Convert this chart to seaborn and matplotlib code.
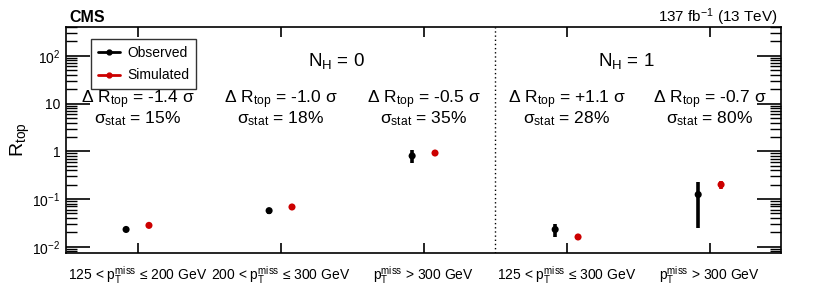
import numpy as np
import pandas as pd
import matplotlib
matplotlib.use("Agg")
import matplotlib.pyplot as plt
import seaborn as sns
from matplotlib.lines import Line2D
from matplotlib.ticker import FixedLocator, FixedFormatter, LogLocator, NullFormatter

# ---- data ----
bins = ["125 < p$_{T}^{miss}$ ≤ 200 GeV", "200 < p$_{T}^{miss}$ ≤ 300 GeV", "p$_{T}^{miss}$ > 300 GeV",
        "125 < p$_{T}^{miss}$ ≤ 300 GeV", "p$_{T}^{miss}$ > 300 GeV"]
obs = [0.023, 0.057, 0.80, 0.023, 0.124]
obs_lo = [0.0205, 0.048, 0.57, 0.016, 0.025]
obs_hi = [0.0258, 0.066, 1.05, 0.030, 0.23]
sim = [0.028, 0.068, 0.92, 0.016, 0.20]
sim_lo = [0.027, 0.066, 0.90, 0.0155, 0.16]
sim_hi = [0.029, 0.070, 0.95, 0.0165, 0.24]
delta_r = ["-1.4", "-1.0", "-0.5", "+1.1", "-0.7"]
sigma_stat = ["15%", "18%", "35%", "28%", "80%"]

sns.set_theme(style="ticks")
plt.rcParams['font.family'] = ['Liberation Sans', 'DejaVu Sans']
plt.rcParams['mathtext.default'] = 'regular'
plt.rcParams['axes.linewidth'] = 1.2
for k in ['text.color', 'axes.labelcolor', 'xtick.color', 'ytick.color', 'axes.edgecolor']:
    plt.rcParams[k] = 'black'

idx = np.arange(len(bins)) + 0.5
off = 0.08
df = pd.DataFrame({
    "x": np.concatenate([idx - off, idx + off]),
    "R": obs + sim,
    "kind": ["Observed"] * 5 + ["Simulated"] * 5,
})

fig = plt.figure(figsize=(8.22, 2.99), dpi=100)
ax = fig.add_axes([0.0803, 0.154, 0.870, 0.757])

# error bars
ax.errorbar(idx - off, obs, yerr=[np.array(obs) - obs_lo, np.array(obs_hi) - obs],
            fmt="none", ecolor="black", elinewidth=2.6, capsize=0, zorder=2)
ax.errorbar(idx + off, sim, yerr=[np.array(sim) - sim_lo, np.array(sim_hi) - sim],
            fmt="none", ecolor="#cc0000", elinewidth=2.6, capsize=0, zorder=2)
sns.scatterplot(data=df, x="x", y="R", hue="kind", palette={"Observed": "black", "Simulated": "#cc0000"},
                s=26, edgecolor="none", legend=False, ax=ax, zorder=3)

ax.set_yscale("log")
ax.set_xlim(0, 5)
ax.set_ylim(0.0074, 410)
ax.axvline(3, color="black", ls=(0, (1, 2)), lw=1.0)

# ticks
ax.set_xticks(idx)
ax.set_xticklabels(bins, fontsize=10)
ax.tick_params(axis="x", which="major", direction="in", length=7, width=1.2, top=True, pad=8)
ax.yaxis.set_major_locator(FixedLocator([1e-2, 1e-1, 1, 10, 100]))
ax.yaxis.set_major_formatter(FixedFormatter(["$10^{-2}$", "$10^{-1}$", "1", "10", "$10^{2}$"]))
ax.yaxis.set_minor_locator(LogLocator(base=10, subs=np.arange(2, 10)))
ax.yaxis.set_minor_formatter(NullFormatter())
ax.tick_params(axis="y", which="major", direction="in", length=17, width=1.2, right=True, labelsize=10, pad=4)
ax.tick_params(axis="y", which="minor", direction="in", length=8, width=1.0, right=True)
ax.set_xlabel("")
ax.set_ylabel("R$_{top}$", fontsize=14)
ax.yaxis.set_label_coords(-0.047, 0.5)

# annotations
for i in range(5):
    ax.text(idx[i], 0.676, "$\\Delta$ R$_{top}$ = " + delta_r[i] + " σ", transform=ax.get_xaxis_transform(),
            ha="center", va="center", fontsize=12.5)
    ax.text(idx[i], 0.592, "σ$_{stat}$ = " + sigma_stat[i], transform=ax.get_xaxis_transform(),
            ha="center", va="center", fontsize=12.5)
ax.text(1.89, 0.85, "N$_{H}$ = 0", transform=ax.get_xaxis_transform(), ha="center", va="center", fontsize=13.5)
ax.text(3.92, 0.85, "N$_{H}$ = 1", transform=ax.get_xaxis_transform(), ha="center", va="center", fontsize=13.5)

# legend
handles = [Line2D([0], [0], color="black", lw=2, marker="o", ms=3.5),
           Line2D([0], [0], color="#cc0000", lw=2, marker="o", ms=3.5)]
leg = ax.legend(handles, ["Observed", "Simulated"], loc="upper left", bbox_to_anchor=(0.025, 0.975),
                fontsize=10, frameon=True, fancybox=False, edgecolor="black", handlelength=1.6,
                borderpad=0.5, labelspacing=0.6, handletextpad=0.5)
leg.get_frame().set_linewidth(1.0)

fig.text(0.085, 0.926, "CMS", fontsize=11.5, fontweight="bold", ha="left", va="baseline")
fig.text(0.946, 0.926, "137 fb$^{-1}$ (13 TeV)", fontsize=11, ha="right", va="baseline")

fig.savefig("out.png", dpi=100)
